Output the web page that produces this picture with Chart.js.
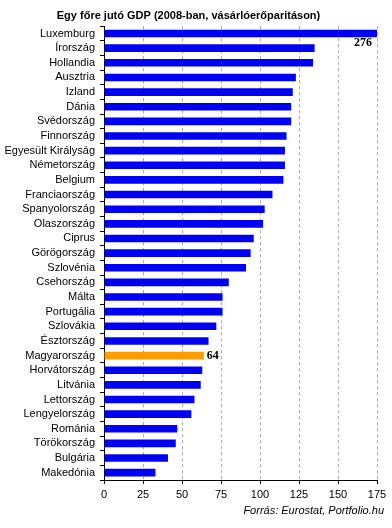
<!DOCTYPE html>
<html>
<head>
<meta charset="utf-8">
<script src="https://cdn.jsdelivr.net/npm/chart.js@4.4.1/dist/chart.umd.min.js"></script>
<style>
  html, body { margin: 0; padding: 0; background: #fff; }
  canvas { display: block; }
</style>
</head>
<body>
<canvas id="gdpChart" width="392" height="528"></canvas>
<script>
// Egy főre jutó GDP, 2008, vásárlóerő-paritáson (EU = 100)

const countries = [
    'Luxemburg', 'Írország', 'Hollandia', 'Ausztria', 'Izland', 'Dánia',
    'Svédország', 'Finnország', 'Egyesült Királyság', 'Németország', 'Belgium',
    'Franciaország', 'Spanyolország', 'Olaszország', 'Ciprus', 'Görögország',
    'Szlovénia', 'Csehország', 'Málta', 'Portugália', 'Szlovákia', 'Észtország',
    'Magyarország', 'Horvátország', 'Litvánia', 'Lettország', 'Lengyelország',
    'Románia', 'Törökország', 'Bulgária', 'Makedónia'
];

const gdpValues = [
    276, 135, 134, 123, 121, 120,
    120, 117, 116, 116, 115,
    108, 103, 102, 96, 94,
    91, 80, 76, 76, 72, 67,
    64, 63, 62, 58, 56,
    47, 46, 41, 33
];

const xTicks = [0, 25, 50, 75, 100, 125, 150, 175];

const highlightCountry = 'Magyarország';
const labelledCountries = ['Luxemburg', 'Magyarország'];

const chartTitle = 'Egy főre jutó GDP (2008-ban, vásárlóerőparitáson)';
const sourceNote = 'Forrás: Eurostat, Portfolio.hu';

const sansFont = '"Liberation Sans", Arial, sans-serif';

// value labels + source line
const valueLabels = {
    id: 'valueLabels',
    afterDatasetsDraw(chart) {
        const ctx = chart.ctx;
        const meta = chart.getDatasetMeta(0);
        const area = chart.chartArea;

        ctx.save();
        ctx.fillStyle = '#000';
        ctx.textBaseline = 'middle';
        ctx.font = 'bold 12px "Liberation Serif", "Times New Roman", serif';

        labelledCountries.forEach(name => {
            const i = countries.indexOf(name);
            const bar = meta.data[i];
            if (bar.x > area.right) {
                // bar runs off the scale: put the number under its end
                ctx.textAlign = 'right';
                ctx.fillText(String(gdpValues[i]), area.right - 5, bar.y + 9);
            } else {
                ctx.textAlign = 'left';
                ctx.fillText(String(gdpValues[i]), bar.x + 3, bar.y + 0.5);
            }
        });

        ctx.font = 'italic 11px ' + sansFont;
        ctx.textAlign = 'right';
        ctx.fillText(sourceNote, chart.width - 8, area.bottom + 31);
        ctx.restore();
    }
};

new Chart(document.getElementById('gdpChart'), {
    type: 'bar',
    data: {
        labels: countries,
        datasets: [{
            data: gdpValues,
            backgroundColor: countries.map(c => c === highlightCountry ? '#ff9c00' : '#0000f2'),
            borderWidth: 0,
            barPercentage: 0.52,
            categoryPercentage: 1,
            clip: 0
        }]
    },
    options: {
        indexAxis: 'y',
        responsive: false,
        animation: false,
        layout: {
            padding: { left: 0, right: 15, top: 0, bottom: 24 }
        },
        plugins: {
            legend: { display: false },
            tooltip: { enabled: false },
            title: {
                display: true,
                text: chartTitle,
                color: '#000',
                font: { family: sansFont, size: 11, weight: 'bold' },
                padding: { top: 9, bottom: 4 }
            }
        },
        scales: {
            x: {
                min: 0,
                max: 175,
                afterBuildTicks: scale => {
                    scale.ticks = xTicks.map(v => ({ value: v }));
                },
                afterFit: scale => { scale.height = 24; },
                ticks: {
                    color: '#000',
                    font: { family: sansFont, size: 11 },
                    padding: 4,
                    maxRotation: 0
                },
                grid: {
                    color: '#a8a8a8',
                    tickColor: '#000',
                    tickLength: 4
                },
                border: {
                    color: '#000',
                    width: 1,
                    dash: [3, 3]
                }
            },
            y: {
                afterFit: scale => { scale.width = 104; },
                ticks: {
                    color: '#000',
                    font: { family: sansFont, size: 11 },
                    padding: 5,
                    autoSkip: false
                },
                grid: {
                    drawOnChartArea: false,
                    tickColor: '#000',
                    tickLength: 4
                },
                border: {
                    color: '#000',
                    width: 1
                }
            }
        }
    },
    plugins: [valueLabels]
});
</script>
</body>
</html>
